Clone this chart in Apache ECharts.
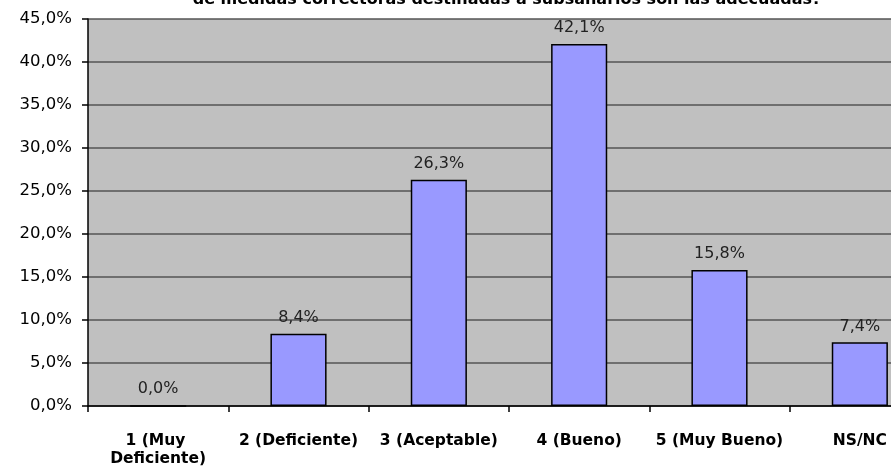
<!DOCTYPE html>
<html>
<head>
<meta charset="utf-8">
<script src="https://cdn.jsdelivr.net/npm/echarts@6/dist/echarts.min.js"></script>
<style>
  html, body { margin: 0; padding: 0; background: #fff; }
  #chart { width: 891px; height: 469px; }
</style>
</head>
<body>
<div id="chart"></div>
<script>
// datos
const categories = ['1 (Muy Deficiente)', '2 (Deficiente)', '3 (Aceptable)', '4 (Bueno)', '5 (Muy Bueno)', 'NS/NC'];
const values = [0.0, 8.4, 26.3, 42.1, 15.8, 7.4];
const titleText = 'de medidas correctoras destinadas a subsanarlos son las adecuadas?';

const pct = v => v.toFixed(1).replace('.', ',') + '%';
const font = 'DejaVu Sans';

const chart = echarts.init(document.getElementById('chart'));
chart.setOption({
  backgroundColor: '#fff',
  animation: false,
  title: {
    text: titleText,
    left: 502,
    textAlign: 'center',
    top: -13,
    textStyle: { fontFamily: font, fontSize: 16, fontWeight: 'bold', color: '#000' }
  },
  grid: {
    left: 88,
    top: 19,
    width: 842,
    height: 387,
    outerBoundsMode: 'none',
    show: true,
    backgroundColor: '#C0C0C0',
    borderWidth: 0
  },
  xAxis: {
    type: 'category',
    data: categories,
    axisLine: { lineStyle: { color: '#000', width: 1.5 } },
    axisTick: { show: true, length: 6, lineStyle: { color: '#000', width: 1.5 } },
    axisLabel: {
      interval: 0,
      margin: 26,
      width: 138,
      overflow: 'break',
      fontFamily: font,
      fontSize: 15.5,
      fontWeight: 'bold',
      lineHeight: 18,
      color: '#000'
    }
  },
  yAxis: {
    type: 'value',
    min: 0,
    max: 45,
    interval: 5,
    axisLine: { show: true, lineStyle: { color: '#000', width: 1.5 } },
    axisTick: { show: true, length: 6, lineStyle: { color: '#000', width: 1.5 } },
    splitLine: { lineStyle: { color: '#555', width: 1.5 } },
    axisLabel: {
      formatter: v => pct(v),
      margin: 16,
      fontFamily: font,
      fontSize: 16.5,
      color: '#000'
    }
  },
  series: [{
    type: 'bar',
    data: values,
    barWidth: '40%',
    itemStyle: { color: '#9999FF', borderColor: '#000', borderWidth: 1.5 },
    label: {
      show: true,
      position: 'top',
      distance: 8,
      formatter: p => pct(p.value),
      fontFamily: font,
      fontSize: 16,
      color: '#222'
    }
  }]
});
</script>
</body>
</html>
